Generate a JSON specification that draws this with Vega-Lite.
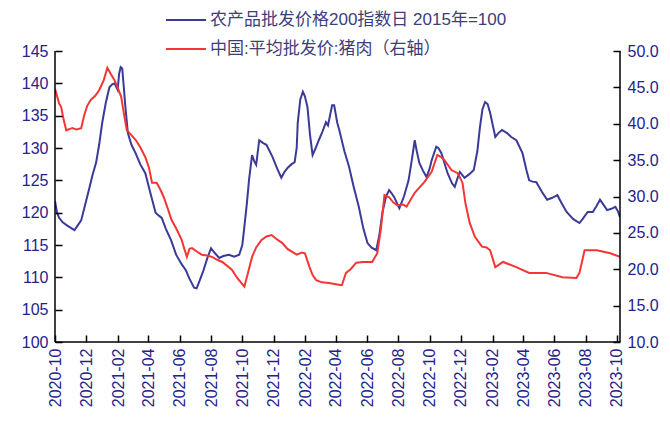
{
  "$schema": "https://vega.github.io/schema/vega-lite/v6.json",
  "width": 565,
  "height": 291,
  "autosize": {"type": "none"},
  "padding": {"left": 55, "top": 51, "right": 50, "bottom": 81},
  "background": "white",
  "config": {"view": {"stroke": null}, "font": "Liberation Sans"},
  "datasets": {
    "blue": [
      {"d": "2020-10-01", "v": 121.8}, {"d": "2020-10-05", "v": 120.0}, {"d": "2020-10-09", "v": 119.2}, {"d": "2020-10-16", "v": 118.5},
      {"d": "2020-10-25", "v": 118.0}, {"d": "2020-11-04", "v": 117.5}, {"d": "2020-11-08", "v": 117.3}, {"d": "2020-11-14", "v": 118.0},
      {"d": "2020-11-21", "v": 118.8}, {"d": "2020-11-28", "v": 121.0}, {"d": "2020-12-06", "v": 123.5}, {"d": "2020-12-13", "v": 125.8},
      {"d": "2020-12-20", "v": 127.7}, {"d": "2020-12-26", "v": 130.5}, {"d": "2021-01-01", "v": 133.9}, {"d": "2021-01-08", "v": 137.0},
      {"d": "2021-01-15", "v": 139.4}, {"d": "2021-01-20", "v": 139.8}, {"d": "2021-01-25", "v": 140.0}, {"d": "2021-01-31", "v": 139.0},
      {"d": "2021-02-03", "v": 141.5}, {"d": "2021-02-06", "v": 142.5}, {"d": "2021-02-09", "v": 142.3}, {"d": "2021-02-12", "v": 139.5},
      {"d": "2021-02-15", "v": 136.5}, {"d": "2021-02-20", "v": 132.3}, {"d": "2021-02-27", "v": 130.5}, {"d": "2021-03-07", "v": 129.2},
      {"d": "2021-03-16", "v": 127.5}, {"d": "2021-03-26", "v": 126.1}, {"d": "2021-04-05", "v": 123.0}, {"d": "2021-04-15", "v": 120.0},
      {"d": "2021-04-22", "v": 119.5}, {"d": "2021-04-27", "v": 119.2}, {"d": "2021-05-05", "v": 117.5}, {"d": "2021-05-15", "v": 115.8},
      {"d": "2021-05-25", "v": 113.5}, {"d": "2021-06-05", "v": 112.0}, {"d": "2021-06-13", "v": 111.1}, {"d": "2021-06-20", "v": 109.8},
      {"d": "2021-06-29", "v": 108.4}, {"d": "2021-07-04", "v": 108.3}, {"d": "2021-07-08", "v": 109.1}, {"d": "2021-07-17", "v": 111.0},
      {"d": "2021-07-25", "v": 113.0}, {"d": "2021-08-01", "v": 114.5}, {"d": "2021-08-08", "v": 113.8}, {"d": "2021-08-17", "v": 113.0},
      {"d": "2021-08-25", "v": 113.3}, {"d": "2021-09-05", "v": 113.5}, {"d": "2021-09-15", "v": 113.2}, {"d": "2021-09-25", "v": 113.5},
      {"d": "2021-10-01", "v": 115.0}, {"d": "2021-10-05", "v": 117.8}, {"d": "2021-10-10", "v": 121.5}, {"d": "2021-10-14", "v": 125.0},
      {"d": "2021-10-20", "v": 128.9}, {"d": "2021-10-24", "v": 128.0}, {"d": "2021-10-28", "v": 127.4}, {"d": "2021-11-03", "v": 131.2},
      {"d": "2021-11-10", "v": 130.8}, {"d": "2021-11-17", "v": 130.5}, {"d": "2021-11-29", "v": 128.6}, {"d": "2021-12-08", "v": 126.8},
      {"d": "2021-12-16", "v": 125.4}, {"d": "2021-12-22", "v": 126.3}, {"d": "2021-12-28", "v": 126.9}, {"d": "2022-01-05", "v": 127.5},
      {"d": "2022-01-11", "v": 127.8}, {"d": "2022-01-15", "v": 130.0}, {"d": "2022-01-17", "v": 133.9}, {"d": "2022-01-22", "v": 137.5},
      {"d": "2022-01-27", "v": 138.7}, {"d": "2022-01-31", "v": 138.0}, {"d": "2022-02-05", "v": 136.3}, {"d": "2022-02-10", "v": 132.0},
      {"d": "2022-02-15", "v": 128.9}, {"d": "2022-02-21", "v": 130.0}, {"d": "2022-02-27", "v": 131.2}, {"d": "2022-03-06", "v": 132.5},
      {"d": "2022-03-13", "v": 134.0}, {"d": "2022-03-17", "v": 133.5}, {"d": "2022-03-25", "v": 136.6}, {"d": "2022-03-29", "v": 136.6},
      {"d": "2022-04-04", "v": 133.9}, {"d": "2022-04-08", "v": 132.8}, {"d": "2022-04-18", "v": 129.5}, {"d": "2022-04-27", "v": 127.1},
      {"d": "2022-05-06", "v": 124.0}, {"d": "2022-05-16", "v": 120.9}, {"d": "2022-05-25", "v": 117.5}, {"d": "2022-06-02", "v": 115.3},
      {"d": "2022-06-10", "v": 114.6}, {"d": "2022-06-19", "v": 114.2}, {"d": "2022-06-25", "v": 116.5}, {"d": "2022-07-01", "v": 120.0},
      {"d": "2022-07-08", "v": 122.5}, {"d": "2022-07-14", "v": 123.5}, {"d": "2022-07-19", "v": 123.0}, {"d": "2022-07-24", "v": 122.4},
      {"d": "2022-08-03", "v": 120.7}, {"d": "2022-08-12", "v": 122.5}, {"d": "2022-08-21", "v": 125.0}, {"d": "2022-08-28", "v": 128.5},
      {"d": "2022-09-02", "v": 131.2}, {"d": "2022-09-06", "v": 129.5}, {"d": "2022-09-11", "v": 127.7}, {"d": "2022-09-18", "v": 126.5},
      {"d": "2022-09-25", "v": 125.5}, {"d": "2022-10-01", "v": 126.8}, {"d": "2022-10-05", "v": 128.1}, {"d": "2022-10-14", "v": 130.2},
      {"d": "2022-10-18", "v": 130.0}, {"d": "2022-10-24", "v": 129.2}, {"d": "2022-11-05", "v": 126.1}, {"d": "2022-11-14", "v": 124.5},
      {"d": "2022-11-19", "v": 124.0}, {"d": "2022-11-25", "v": 125.5}, {"d": "2022-11-29", "v": 126.3}, {"d": "2022-12-08", "v": 125.4},
      {"d": "2022-12-18", "v": 126.0}, {"d": "2022-12-26", "v": 126.6}, {"d": "2023-01-02", "v": 129.5}, {"d": "2023-01-07", "v": 133.2},
      {"d": "2023-01-12", "v": 136.0}, {"d": "2023-01-17", "v": 137.1}, {"d": "2023-01-22", "v": 136.8}, {"d": "2023-01-27", "v": 135.4},
      {"d": "2023-02-06", "v": 131.7}, {"d": "2023-02-12", "v": 132.3}, {"d": "2023-02-19", "v": 132.8}, {"d": "2023-03-01", "v": 132.3},
      {"d": "2023-03-09", "v": 131.7}, {"d": "2023-03-19", "v": 131.2}, {"d": "2023-03-31", "v": 129.2}, {"d": "2023-04-08", "v": 126.5},
      {"d": "2023-04-13", "v": 125.0}, {"d": "2023-04-20", "v": 124.8}, {"d": "2023-04-27", "v": 124.7}, {"d": "2023-05-08", "v": 123.2},
      {"d": "2023-05-18", "v": 122.0}, {"d": "2023-05-28", "v": 122.3}, {"d": "2023-06-07", "v": 122.7}, {"d": "2023-06-15", "v": 121.5},
      {"d": "2023-06-25", "v": 120.1}, {"d": "2023-07-08", "v": 119.0}, {"d": "2023-07-20", "v": 118.4}, {"d": "2023-07-26", "v": 119.0},
      {"d": "2023-08-05", "v": 120.1}, {"d": "2023-08-15", "v": 120.1}, {"d": "2023-08-22", "v": 121.0}, {"d": "2023-08-29", "v": 122.0},
      {"d": "2023-09-05", "v": 121.2}, {"d": "2023-09-12", "v": 120.4}, {"d": "2023-09-20", "v": 120.6}, {"d": "2023-09-28", "v": 120.9},
      {"d": "2023-10-03", "v": 120.2}, {"d": "2023-10-07", "v": 119.3}
    ],
    "red": [
      {"d": "2020-10-01", "v": 44.8}, {"d": "2020-10-05", "v": 43.8}, {"d": "2020-10-09", "v": 42.8}, {"d": "2020-10-13", "v": 42.3},
      {"d": "2020-10-18", "v": 40.5}, {"d": "2020-10-23", "v": 39.1}, {"d": "2020-10-30", "v": 39.3}, {"d": "2020-11-04", "v": 39.4},
      {"d": "2020-11-12", "v": 39.2}, {"d": "2020-11-21", "v": 39.4}, {"d": "2020-11-27", "v": 41.2}, {"d": "2020-12-03", "v": 42.5},
      {"d": "2020-12-10", "v": 43.3}, {"d": "2020-12-18", "v": 43.8}, {"d": "2020-12-26", "v": 44.6}, {"d": "2021-01-04", "v": 46.0},
      {"d": "2021-01-11", "v": 47.7}, {"d": "2021-01-18", "v": 46.8}, {"d": "2021-01-25", "v": 46.0}, {"d": "2021-02-01", "v": 44.8},
      {"d": "2021-02-07", "v": 43.7}, {"d": "2021-02-12", "v": 41.5}, {"d": "2021-02-18", "v": 39.1}, {"d": "2021-02-26", "v": 38.5},
      {"d": "2021-03-07", "v": 37.8}, {"d": "2021-03-16", "v": 36.8}, {"d": "2021-03-26", "v": 35.4}, {"d": "2021-04-02", "v": 34.0},
      {"d": "2021-04-08", "v": 31.9}, {"d": "2021-04-17", "v": 31.9}, {"d": "2021-04-24", "v": 31.0}, {"d": "2021-05-01", "v": 29.9},
      {"d": "2021-05-09", "v": 28.3}, {"d": "2021-05-16", "v": 26.8}, {"d": "2021-05-26", "v": 25.5}, {"d": "2021-06-05", "v": 24.0},
      {"d": "2021-06-10", "v": 22.8}, {"d": "2021-06-15", "v": 21.7}, {"d": "2021-06-20", "v": 22.8}, {"d": "2021-06-25", "v": 22.9},
      {"d": "2021-07-05", "v": 22.4}, {"d": "2021-07-14", "v": 22.0}, {"d": "2021-07-24", "v": 21.9}, {"d": "2021-08-03", "v": 21.7},
      {"d": "2021-08-13", "v": 21.3}, {"d": "2021-08-23", "v": 21.0}, {"d": "2021-09-01", "v": 20.5}, {"d": "2021-09-11", "v": 19.9},
      {"d": "2021-09-21", "v": 18.8}, {"d": "2021-10-05", "v": 17.6}, {"d": "2021-10-12", "v": 19.5}, {"d": "2021-10-20", "v": 21.7},
      {"d": "2021-10-28", "v": 23.0}, {"d": "2021-11-07", "v": 24.0}, {"d": "2021-11-17", "v": 24.5}, {"d": "2021-11-27", "v": 24.7},
      {"d": "2021-12-06", "v": 24.2}, {"d": "2021-12-18", "v": 23.6}, {"d": "2021-12-28", "v": 22.8}, {"d": "2022-01-15", "v": 22.0},
      {"d": "2022-01-25", "v": 22.3}, {"d": "2022-01-31", "v": 22.2}, {"d": "2022-02-09", "v": 20.3}, {"d": "2022-02-15", "v": 19.2},
      {"d": "2022-02-22", "v": 18.5}, {"d": "2022-03-05", "v": 18.2}, {"d": "2022-03-19", "v": 18.1}, {"d": "2022-04-04", "v": 17.9},
      {"d": "2022-04-13", "v": 17.8}, {"d": "2022-04-21", "v": 19.5}, {"d": "2022-04-30", "v": 20.0}, {"d": "2022-05-11", "v": 20.9},
      {"d": "2022-05-25", "v": 21.0}, {"d": "2022-06-11", "v": 21.0}, {"d": "2022-06-21", "v": 22.2}, {"d": "2022-06-28", "v": 25.5},
      {"d": "2022-07-05", "v": 30.2}, {"d": "2022-07-14", "v": 29.9}, {"d": "2022-07-22", "v": 29.2}, {"d": "2022-07-30", "v": 28.8},
      {"d": "2022-08-10", "v": 28.9}, {"d": "2022-08-17", "v": 28.6}, {"d": "2022-09-02", "v": 30.5}, {"d": "2022-09-21", "v": 32.0},
      {"d": "2022-10-05", "v": 33.4}, {"d": "2022-10-16", "v": 35.7}, {"d": "2022-10-22", "v": 35.5}, {"d": "2022-10-30", "v": 35.0},
      {"d": "2022-11-13", "v": 33.6}, {"d": "2022-11-25", "v": 33.2}, {"d": "2022-12-04", "v": 31.9}, {"d": "2022-12-10", "v": 29.0},
      {"d": "2022-12-18", "v": 26.4}, {"d": "2022-12-28", "v": 24.5}, {"d": "2023-01-11", "v": 23.1}, {"d": "2023-01-20", "v": 23.0},
      {"d": "2023-01-27", "v": 22.6}, {"d": "2023-02-06", "v": 20.3}, {"d": "2023-02-21", "v": 21.0}, {"d": "2023-03-19", "v": 20.3},
      {"d": "2023-04-13", "v": 19.5}, {"d": "2023-05-16", "v": 19.5}, {"d": "2023-06-17", "v": 18.9}, {"d": "2023-07-14", "v": 18.8},
      {"d": "2023-07-20", "v": 19.5}, {"d": "2023-07-30", "v": 22.6}, {"d": "2023-08-23", "v": 22.6}, {"d": "2023-09-18", "v": 22.2},
      {"d": "2023-10-07", "v": 21.7}
    ],
    "edges": [{"d": "2020-10-01"}, {"d": "2023-10-07"}],
    "base": [{"v": 100}]
  },
  "encoding": {
    "x": {
      "field": "d", "type": "temporal",
      "scale": {"type": "utc", "domain": [{"year": 2020, "month": 10, "date": 1, "utc": true}, {"year": 2023, "month": 10, "date": 7, "utc": true}]},
      "axis": {
        "title": null, "grid": false, "zindex": 1, "offset": -7, "domain": false,
        "labelExpr": "utcFormat(datum.value, '%Y-%m')",
        "values": [
          {"year": 2020, "month": 10, "date": 1, "utc": true}, {"year": 2020, "month": 12, "date": 1, "utc": true},
          {"year": 2021, "month": 2, "date": 1, "utc": true}, {"year": 2021, "month": 4, "date": 1, "utc": true},
          {"year": 2021, "month": 6, "date": 1, "utc": true}, {"year": 2021, "month": 8, "date": 1, "utc": true},
          {"year": 2021, "month": 10, "date": 1, "utc": true}, {"year": 2021, "month": 12, "date": 1, "utc": true},
          {"year": 2022, "month": 2, "date": 1, "utc": true}, {"year": 2022, "month": 4, "date": 1, "utc": true},
          {"year": 2022, "month": 6, "date": 1, "utc": true}, {"year": 2022, "month": 8, "date": 1, "utc": true},
          {"year": 2022, "month": 10, "date": 1, "utc": true}, {"year": 2022, "month": 12, "date": 1, "utc": true},
          {"year": 2023, "month": 2, "date": 1, "utc": true}, {"year": 2023, "month": 4, "date": 1, "utc": true},
          {"year": 2023, "month": 6, "date": 1, "utc": true}, {"year": 2023, "month": 8, "date": 1, "utc": true},
          {"year": 2023, "month": 10, "date": 1, "utc": true}
        ],
        "labelAngle": -90, "labelAlign": "right", "labelBaseline": "middle",
        "labelFontSize": 16, "labelColor": "#23238a", "labelPadding": 6,
        "labelFlush": false, "labelOverlap": false,
        "ticks": true, "tickSize": 7, "tickColor": "#000000", "tickWidth": 1.5
      }
    }
  },
  "layer": [
    {
      "data": {"name": "blue"},
      "mark": {"type": "line", "strokeWidth": 2, "clip": true},
      "encoding": {
        "y": {
          "field": "v", "type": "quantitative",
          "scale": {"domain": [100, 145], "nice": false, "zero": false},
          "axis": {
            "orient": "left", "title": null, "grid": false, "zindex": 1, "offset": -7, "domain": false,
            "values": [100, 105, 110, 115, 120, 125, 130, 135, 140, 145],
            "labelFontSize": 16, "labelColor": "#23238a", "labelPadding": 7, "labelFlush": false,
            "ticks": true, "tickSize": 7, "tickColor": "#000000", "tickWidth": 1.5
          }
        },
        "color": {
          "datum": "农产品批发价格200指数日 2015年=100",
          "scale": {"domain": ["农产品批发价格200指数日 2015年=100", "中国:平均批发价:猪肉（右轴）"], "range": ["#3a3a98", "#f53535"]},
          "legend": {
            "orient": "none", "legendX": 110, "legendY": -52, "title": null,
            "symbolType": "stroke", "symbolSize": 1600, "symbolStrokeWidth": 2,
            "labelFont": "Liberation Sans, Noto Sans CJK SC", "labelFontSize": 17, "labelColor": "#3d3d7a",
            "labelOffset": 3, "rowPadding": -4, "labelLimit": 500
          }
        }
      }
    },
    {
      "data": {"name": "red"},
      "mark": {"type": "line", "strokeWidth": 2, "clip": true},
      "encoding": {
        "y": {
          "field": "v", "type": "quantitative",
          "scale": {"domain": [10, 50], "nice": false, "zero": false},
          "axis": {
            "orient": "right", "title": null, "grid": false, "zindex": 1, "format": ".1f", "offset": -7, "domain": false,
            "values": [10, 15, 20, 25, 30, 35, 40, 45, 50],
            "labelFontSize": 16, "labelColor": "#23238a", "labelPadding": 7, "labelFlush": false,
            "ticks": true, "tickSize": 7, "tickColor": "#000000", "tickWidth": 1.5
          }
        },
        "color": {"datum": "中国:平均批发价:猪肉（右轴）"}
      }
    },
    {
      "data": {"name": "edges"},
      "mark": {"type": "rule", "color": "#000000", "strokeWidth": 1.5},
      "encoding": {}
    },
    {
      "data": {"name": "base"},
      "mark": {"type": "rule", "color": "#000000", "strokeWidth": 1.5},
      "encoding": {"x": {"value": 0}, "x2": {"value": "width"}, "y": {"value": "height"}}
    }
  ],
  "resolve": {"scale": {"y": "independent"}}
}
